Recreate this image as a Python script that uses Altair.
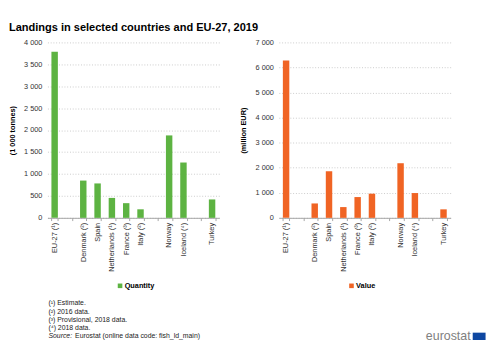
import altair as alt
import pandas as pd

countries = ["EU-27 (¹)", " ", "Denmark (²)", "Spain", "Netherlands (¹)", "France (³)",
             "Italy (²)", "  ", "Norway", "Iceland (⁴)", "   ", "Turkey"]
quantity = [3790, None, 850, 785, 455, 335, 195, None, 1880, 1262, None, 420]
value = [6280, None, 575, 1860, 430, 830, 965, None, 2180, 990, None, 340]
footnotes = ["(¹) Estimate.", "(²) 2016 data.", "(³) Provisional, 2018 data.", "(⁴) 2018 data."]
source_label = "Source:"
source_text = "Eurostat (online data code: fish_ld_main)"
title_text = "Landings in selected countries and EU-27, 2019"
logo_text = "eurostat"

FONT = "Liberation Sans"
GREEN = "#5DB342"
ORANGE = "#F06424"

q_df = pd.DataFrame({"country": countries, "amount": quantity})
v_df = pd.DataFrame({"country": countries, "amount": value})

y_label_expr = ("datum.value >= 1000 ? floor(datum.value / 1000) + ' ' + "
                "format(datum.value % 1000, '03d') : '' + datum.value")


def panel(df, name, color, ymax, step, ytitle):
    x = alt.X("country:N",
              scale=alt.Scale(domain=countries, paddingInner=0.55, paddingOuter=0.275),
              axis=alt.Axis(title=None, labelAngle=-90, tickBand="extent",
                            labelFontSize=8, labelColor="#333333", labelPadding=2,
                            labelFont=FONT,
                            domainColor="#a0a0a0", tickColor="#a0a0a0", tickSize=3, grid=False))
    y = alt.Y("amount:Q", scale=alt.Scale(domain=[0, ymax], nice=False),
              axis=alt.Axis(title=ytitle, values=list(range(0, ymax + 1, step)),
                            labelExpr=y_label_expr, domain=False, ticks=False,
                            labelPadding=6, titlePadding=8, gridDash=[1, 2],
                            gridColor="#c4c4c4", labelFontSize=8, labelColor="#333333",
                            labelFont=FONT, titleFont=FONT,
                            titleFontSize=8, titleFontWeight="bold", titleColor="#000000"))
    bars = alt.Chart(df).mark_bar(color=color).encode(x=x, y=y)
    leg_df = pd.DataFrame({"label": [name]})
    sq = alt.Chart(leg_df).mark_square(color=color, size=25, opacity=1).encode(
        x=alt.value(79), y=alt.value(265))
    tx = alt.Chart(leg_df).mark_text(align="left", baseline="middle", fontSize=8, font=FONT,
                                     fontWeight="bold", color="#000000").encode(
        x=alt.value(84), y=alt.value(265), text="label:N")
    return alt.layer(bars, sq, tx).properties(width=187, height=191)


left = panel(q_df, "Quantity", GREEN, 4000, 500, "(1 000 tonnes)")
right = panel(v_df, "Value", ORANGE, 7000, 1000, "(million EUR)")

top = alt.hconcat(left, right, spacing=22).resolve_scale(y="independent")

foot_df = pd.DataFrame({"row": list(range(len(footnotes))), "text": footnotes})
src_df = pd.DataFrame({"row": [4], "a": [source_label], "b": [source_text]})
ybase = alt.Y("row:O", axis=None,
              scale=alt.Scale(domain=[0, 1, 2, 3, 4], paddingInner=0, paddingOuter=0))

notes = alt.Chart(foot_df).mark_text(align="left", baseline="middle", fontSize=7.5,
                                     font=FONT, color="#222222").encode(
    x=alt.value(1), y=ybase, text="text:N")
src_a = alt.Chart(src_df).mark_text(align="left", baseline="middle", fontSize=7.5, font=FONT,
                                    fontStyle="italic", color="#222222").encode(
    x=alt.value(1), y=ybase, text="a:N")
src_b = alt.Chart(src_df).mark_text(align="left", baseline="middle", fontSize=7.5, font=FONT,
                                    color="#222222").encode(
    x=alt.value(30), y=ybase, text="b:N")
logo_df = pd.DataFrame({"t": [logo_text]})
logo = alt.Chart(logo_df).mark_text(align="left", baseline="alphabetic", fontSize=13.5,
                                    font=FONT, color="#808080").encode(
    x=alt.value(412), y=alt.value(44), text="t:N")
flag = alt.Chart(logo_df).mark_rect(color="#0E47A1").encode(
    x=alt.value(463), x2=alt.value(477), y=alt.value(36), y2=alt.value(44))

footer = alt.layer(notes, src_a, src_b, logo, flag).properties(width=484, height=44)

chart = alt.vconcat(top, footer, spacing=11).properties(
    title=alt.TitleParams(title_text, anchor="start", fontSize=12, font=FONT,
                          fontWeight="bold", color="#000000", offset=5),
    padding=0,
).configure_view(stroke=None)

chart.save("out.html", embed_options={"renderer": "svg", "actions": False})
